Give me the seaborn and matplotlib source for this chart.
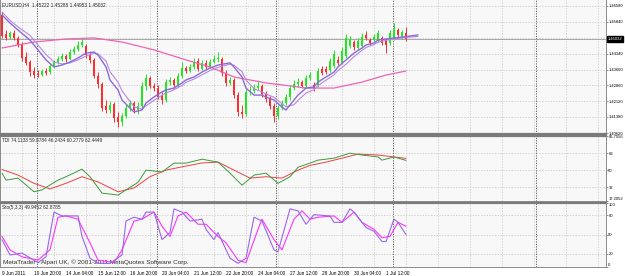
import numpy as np
import pandas as pd
import matplotlib
matplotlib.use("Agg")
import matplotlib.pyplot as plt
from matplotlib import font_manager
import seaborn as sns

# EURUSD H4 candles (bar 0 = 9 Jun 2011 12:00)
opens = [1.4616, 1.4527, 1.4512, 1.4531, 1.4508, 1.4480, 1.4419, 1.4395, 1.4353, 1.4339,
         1.4334, 1.4353, 1.4348, 1.4376, 1.4395, 1.4409, 1.4423, 1.4409, 1.4442, 1.4456,
         1.4475, 1.4470, 1.4428, 1.4405, 1.4330, 1.4292, 1.4189, 1.4170, 1.4198, 1.4137,
         1.4114, 1.4142, 1.4179, 1.4203, 1.4170, 1.4189, 1.4283, 1.4320, 1.4283, 1.4273,
         1.4236, 1.4217, 1.4301, 1.4311, 1.4287, 1.4330, 1.4367, 1.4353, 1.4372, 1.4400,
         1.4362, 1.4391, 1.4372, 1.4395, 1.4409, 1.4409, 1.4344, 1.4297, 1.4311, 1.4240,
         1.4161, 1.4151, 1.4255, 1.4259, 1.4273, 1.4283, 1.4245, 1.4222, 1.4189, 1.4142,
         1.4179, 1.4203, 1.4231, 1.4273, 1.4292, 1.4301, 1.4283, 1.4320, 1.4287, 1.4287,
         1.4362, 1.4362, 1.4358, 1.4376, 1.4405, 1.4391, 1.4423, 1.4470, 1.4489, 1.4461,
         1.4470, 1.4522, 1.4498, 1.4498, 1.4498, 1.4508, 1.4498, 1.4484, 1.4508, 1.4545,
         1.4512, 1.4531]
closes = [1.4517, 1.4508, 1.4531, 1.4508, 1.4475, 1.4414, 1.4391, 1.4348, 1.4334, 1.4334,
          1.4353, 1.4344, 1.4376, 1.4395, 1.4409, 1.4423, 1.4409, 1.4442, 1.4456, 1.4475,
          1.4489, 1.4428, 1.4405, 1.4330, 1.4292, 1.4179, 1.4170, 1.4194, 1.4133, 1.4114,
          1.4142, 1.4179, 1.4203, 1.4170, 1.4189, 1.4283, 1.4320, 1.4283, 1.4273, 1.4236,
          1.4217, 1.4301, 1.4311, 1.4287, 1.4330, 1.4367, 1.4353, 1.4372, 1.4395, 1.4362,
          1.4391, 1.4372, 1.4395, 1.4409, 1.4414, 1.4344, 1.4297, 1.4311, 1.4240, 1.4161,
          1.4151, 1.4255, 1.4259, 1.4273, 1.4283, 1.4245, 1.4222, 1.4189, 1.4142, 1.4179,
          1.4203, 1.4231, 1.4273, 1.4292, 1.4301, 1.4283, 1.4320, 1.4334, 1.4269, 1.4353,
          1.4344, 1.4348, 1.4400, 1.4433, 1.4391, 1.4447, 1.4508, 1.4503, 1.4466, 1.4494,
          1.4512, 1.4508, 1.4484, 1.4512, 1.4531, 1.4484, 1.4475, 1.4531, 1.4545, 1.4522,
          1.4536, 1.4503]
highs = [1.4630, 1.4545, 1.4541, 1.4545, 1.4517, 1.4489, 1.4442, 1.4405, 1.4372, 1.4358,
         1.4362, 1.4367, 1.4386, 1.4405, 1.4423, 1.4437, 1.4433, 1.4456, 1.4470, 1.4494,
         1.4503, 1.4480, 1.4442, 1.4414, 1.4348, 1.4301, 1.4217, 1.4212, 1.4208, 1.4161,
         1.4156, 1.4198, 1.4217, 1.4212, 1.4208, 1.4301, 1.4339, 1.4330, 1.4297, 1.4287,
         1.4255, 1.4315, 1.4325, 1.4320, 1.4344, 1.4395, 1.4376, 1.4386, 1.4414, 1.4414,
         1.4405, 1.4405, 1.4409, 1.4428, 1.4442, 1.4419, 1.4358, 1.4325, 1.4320, 1.4255,
         1.4194, 1.4269, 1.4283, 1.4292, 1.4311, 1.4292, 1.4259, 1.4236, 1.4203, 1.4194,
         1.4217, 1.4245, 1.4287, 1.4311, 1.4320, 1.4311, 1.4334, 1.4348, 1.4301, 1.4367,
         1.4376, 1.4376, 1.4414, 1.4452, 1.4423, 1.4466, 1.4527, 1.4517, 1.4498, 1.4508,
         1.4531, 1.4541, 1.4508, 1.4527, 1.4545, 1.4517, 1.4508, 1.4545, 1.4578, 1.4555,
         1.4545, 1.4559]
lows = [1.4508, 1.4498, 1.4503, 1.4498, 1.4466, 1.4400, 1.4381, 1.4330, 1.4320, 1.4325,
        1.4330, 1.4334, 1.4339, 1.4367, 1.4386, 1.4400, 1.4395, 1.4405, 1.4433, 1.4447,
        1.4466, 1.4414, 1.4391, 1.4320, 1.4273, 1.4165, 1.4156, 1.4156, 1.4114, 1.4090,
        1.4095, 1.4133, 1.4165, 1.4156, 1.4151, 1.4179, 1.4264, 1.4273, 1.4259, 1.4222,
        1.4198, 1.4208, 1.4287, 1.4273, 1.4278, 1.4320, 1.4344, 1.4348, 1.4362, 1.4353,
        1.4358, 1.4362, 1.4367, 1.4391, 1.4395, 1.4330, 1.4283, 1.4287, 1.4226, 1.4142,
        1.4133, 1.4142, 1.4240, 1.4250, 1.4264, 1.4231, 1.4208, 1.4175, 1.4114, 1.4128,
        1.4170, 1.4194, 1.4217, 1.4264, 1.4278, 1.4273, 1.4273, 1.4311, 1.4259, 1.4278,
        1.4334, 1.4339, 1.4348, 1.4367, 1.4381, 1.4386, 1.4414, 1.4461, 1.4452, 1.4452,
        1.4461, 1.4498, 1.4475, 1.4489, 1.4489, 1.4475, 1.4437, 1.4475, 1.4498, 1.4512,
        1.4503, 1.4494]

# moving averages (sampled along the curves)
ma_bars = [0, 2, 4, 7, 9, 11, 13, 15, 17, 19, 21, 23, 24, 26, 27, 29, 30, 32, 33, 35,
           36, 38, 40, 41, 43, 45, 46, 48, 50, 52, 54, 57, 58, 60, 61, 63, 65, 66, 68, 70,
           71, 73, 74, 76, 78, 79, 81, 83, 84, 86, 88, 90, 91, 93, 94, 96, 98, 100, 102, 104]
ma_fast = [1.4616, 1.4578, 1.4545, 1.4498, 1.4452, 1.4405, 1.4372, 1.4381, 1.4395, 1.4414,
           1.4437, 1.4442, 1.4428, 1.4372, 1.4311, 1.4264, 1.4217, 1.4179, 1.4161, 1.4170,
           1.4203, 1.4231, 1.4255, 1.4264, 1.4273, 1.4297, 1.4311, 1.4325, 1.4348, 1.4367,
           1.4381, 1.4391, 1.4372, 1.4325, 1.4273, 1.4240, 1.4240, 1.4231, 1.4217, 1.4184,
           1.4170, 1.4217, 1.4240, 1.4273, 1.4278, 1.4301, 1.4325, 1.4348, 1.4372, 1.4405,
           1.4437, 1.4461, 1.4475, 1.4484, 1.4498, 1.4503, 1.4508, 1.4512, 1.4517, 1.4522]
ma_mid = [1.4630, 1.4590, 1.4560, 1.4520, 1.4475, 1.4430, 1.4395, 1.4386, 1.4391, 1.4405,
          1.4423, 1.4437, 1.4433, 1.4400, 1.4350, 1.4300, 1.4260, 1.4210, 1.4185, 1.4175,
          1.4190, 1.4215, 1.4240, 1.4250, 1.4265, 1.4285, 1.4300, 1.4315, 1.4335, 1.4355,
          1.4370, 1.4385, 1.4380, 1.4350, 1.4310, 1.4270, 1.4255, 1.4245, 1.4230, 1.4200,
          1.4185, 1.4195, 1.4215, 1.4250, 1.4265, 1.4285, 1.4310, 1.4335, 1.4355, 1.4385,
          1.4420, 1.4450, 1.4463, 1.4477, 1.4488, 1.4497, 1.4503, 1.4508, 1.4512, 1.4515]
slow_bars = [0, 8, 16, 23, 30, 38, 46, 52, 58, 66, 72, 76, 83, 90, 96, 101]
ma_slow = [1.4461, 1.4489, 1.4503, 1.4508, 1.4489, 1.4452, 1.4405, 1.4372, 1.4325, 1.4297,
           1.4283, 1.4273, 1.4273, 1.4301, 1.4334, 1.4353]

# TDI window
tdi_green_bars = [0, 1, 4, 8, 10, 14, 16, 20, 22, 25, 29, 31, 34, 36, 40, 43, 46, 50, 54,
                  57, 60, 63, 66, 69, 72, 74, 77, 79, 83, 87, 90, 94, 95, 98, 101]
tdi_green = [46.8, 39.4, 41.5, 27, 29, 39.4, 43, 51, 43, 25.6, 23.5, 29, 37, 50, 48, 57.4,
             57.4, 61.6, 58.5, 46.8, 34, 44.7, 46.8, 36, 43, 53, 57.4, 60.6, 62.7, 68, 66,
             64, 60.6, 64, 60.3]
tdi_red_bars = [0, 4, 8, 12, 16, 20, 24, 29, 33, 37, 41, 45, 50, 54, 58, 62, 66, 70, 74,
                77, 81, 85, 89, 94, 98, 101]
tdi_red = [50.7, 44.7, 36, 30, 36, 43, 37.5, 27, 31, 43, 50, 53.5, 57.6, 58.5, 50, 41.5,
           43, 41.5, 50, 55, 58.5, 62.7, 67, 66, 64, 62.4]

# Stochastic (5,3,3)
stoch_k_bars = [0, 2, 5, 9, 11, 13, 15, 19, 20, 22, 24, 27, 30, 31, 33, 35, 36, 38, 40, 42,
                43, 45, 47, 50, 51, 53, 54, 57, 59, 61, 63, 65, 68, 69, 72, 74, 76, 78, 82,
                83, 85, 87, 88, 91, 93, 95, 96, 98, 99, 101]
stoch_k = [42, 18, 21, 6, 15, 85, 79, 79, 47, 13, 5, 5, 18, 71, 77, 74, 85, 85, 42, 53,
           90, 85, 71, 74, 58, 42, 53, 13, 5, 13, 77, 71, 26, 23, 90, 87, 66, 81, 79,
           69, 69, 90, 85, 61, 55, 39, 39, 74, 69, 49.9]
stoch_d_bars = [0, 2, 5, 9, 12, 14, 16, 19, 22, 24, 28, 30, 33, 35, 38, 40, 42, 44, 46, 49,
                51, 54, 56, 59, 61, 64, 65, 68, 70, 73, 75, 77, 79, 83, 85, 88, 90, 93, 95,
                97, 99, 101]
stoch_d = [47, 26, 15, 10, 26, 77, 79, 74, 37, 10, 6, 26, 71, 74, 85, 63, 47, 79, 85, 66,
           66, 47, 37, 10, 6, 58, 74, 42, 26, 74, 87, 74, 77, 79, 69, 85, 69, 58, 45,
           47, 69, 62.9]

price_ticks = [1.46580, 1.45840, 1.44340, 1.43600, 1.42860, 1.42120, 1.41380, 1.40620]
last_price = 1.45032
tdi_ticks = [86.7556, 68, 50, 32, 17.2052]
stoch_ticks = [100, 80, 50, 20, 0]
time_bars = [0, 8, 16, 24, 32, 40, 48, 56, 64, 72, 80, 88, 96]
time_labels = ["9 Jun 2011", "10 Jun 20:00", "14 Jun 04:00", "15 Jun 12:00", "16 Jun 20:00",
               "20 Jun 04:00", "21 Jun 12:00", "22 Jun 20:00", "24 Jun 04:00", "27 Jun 12:00",
               "28 Jun 20:00", "30 Jun 04:00", "1 Jul 12:00"]
week_breaks = [8.75, 38.75, 68.5, 97.75, 133.5]

sns.set_style("white")
plt.rcParams["font.family"] = ["Liberation Sans", "DejaVu Sans"]

# a narrow face keeps the tiny MetaTrader labels from running into each other
installed = {f.name for f in font_manager.fontManager.ttflist}
if "Liberation Sans Narrow" in installed:
    small = dict(family=["Liberation Sans Narrow", "DejaVu Sans"], size=4.0)
    scale = dict(family=["Liberation Sans Narrow", "DejaVu Sans"], size=3.5)
else:
    small = dict(family=["Liberation Sans", "DejaVu Sans"], size=3.4)
    scale = dict(family=["Liberation Sans", "DejaVu Sans"], size=3.0)

W, H = 625, 276
fig = plt.figure(figsize=(W / 100, H / 100), dpi=100)
fig.patch.set_facecolor("white")


def panel(top, bottom):
    return fig.add_axes([0, 1 - bottom / H, 606 / W, (bottom - top) / H])


ax_p = panel(0, 134)
ax_t = panel(135.5, 201)
ax_s = panel(202.5, 266.5)
axes = [ax_p, ax_t, ax_s]

grid_bars = np.arange(5, 152, 8)
for ax in axes:
    ax.set_facecolor("#f8f8f8")
    ax.set_xlim(-0.5, 151)
    ax.set_xticks(grid_bars, minor=True)
    ax.grid(axis="x", which="minor", color="#c4c4c4", ls=(0, (2, 2)), lw=0.5)
    ax.grid(axis="y", which="major", color="#c4c4c4", ls=(0, (2, 2)), lw=0.5)
    ax.set_axisbelow(True)
    ax.yaxis.tick_right()
    ax.tick_params(axis="y", length=1.2, width=0.5, pad=0.5, colors="#707070",
                   labelcolor="black")
    ax.tick_params(axis="x", which="minor", length=0)
    for s in ["left", "right", "top", "bottom"]:
        ax.spines[s].set_color("#7a7a7a")
        ax.spines[s].set_linewidth(0.6)
    for b in week_breaks:
        ax.axvline(b, color="#505050", ls=(0, (1.5, 1.5)), lw=0.6, zorder=1)
for ax in [ax_t, ax_s]:
    ax.spines["top"].set_linewidth(1.6)
ax_p.spines["top"].set_visible(False)
ax_p.spines["bottom"].set_linewidth(1.6)

# --- price panel ---
bars = np.arange(len(closes))
o = np.array(opens)
c = np.array(closes)
col = np.where(c >= o, "#1fe81f", "#ff2d2d")
ax_p.vlines(bars, lows, highs, colors=col, lw=0.7, zorder=2)
ax_p.bar(bars, np.maximum(np.abs(c - o), 0.00015), bottom=np.minimum(o, c),
         width=0.72, color=col, linewidth=0, zorder=3)
sns.lineplot(x=slow_bars, y=ma_slow, ax=ax_p, color="#f062b4", lw=0.9, zorder=4)
sns.lineplot(x=ma_bars, y=ma_mid, ax=ax_p, color="#b688e6", lw=0.8, zorder=4)
sns.lineplot(x=ma_bars, y=ma_fast, ax=ax_p, color="#8a6ad8", lw=1.0, zorder=5)
ax_p.axhline(last_price, color="#9a9a9a", lw=0.6, zorder=1)
ax_p.set_ylim(1.40575, 1.4686)
ax_p.set_yticks(price_ticks + [1.4510], [f"{v:.5f}" for v in price_ticks] + [""])
ax_p.text(1.0 + 2 / 606, last_price, f"{last_price:.5f}", transform=ax_p.get_yaxis_transform(),
          color="white", va="center", ha="left", clip_on=False,
          bbox=dict(facecolor="black", edgecolor="black", pad=0.4),
          family=scale["family"], size=scale["size"])
ax_p.text(0.004, 0.985, "EURUSD,H4  1.45222 1.45288 1.44953 1.45032", transform=ax_p.transAxes,
          va="top", ha="left", **small)

# --- TDI panel ---
sns.lineplot(x=tdi_red_bars, y=tdi_red, ax=ax_t, color="#f04040", lw=0.7, zorder=4)
sns.lineplot(x=tdi_green_bars, y=tdi_green, ax=ax_t, color="#3c9a3c", lw=0.7, zorder=5)
ax_t.set_ylim(17.2052, 86.7556)
ax_t.set_yticks(tdi_ticks, ["86.7556", "68", "50", "32", "17.2052"])
ax_t.get_yticklabels()[0].set_va("top")
ax_t.get_yticklabels()[-1].set_va("bottom")
ax_t.text(0.004, 0.96, "TDI 74.1133 59.8784 46.2434 60.2779 62.4449", transform=ax_t.transAxes,
          va="top", ha="left", **small)

# --- Stochastic panel ---
sns.lineplot(x=stoch_d_bars, y=stoch_d, ax=ax_s, color="#ff33ff", lw=0.8, zorder=4)
sns.lineplot(x=stoch_k_bars, y=stoch_k, ax=ax_s, color="#9966ee", lw=0.8, zorder=5)
ax_s.set_ylim(0, 100)
ax_s.set_yticks(stoch_ticks, [str(v) for v in stoch_ticks])
ax_s.get_yticklabels()[0].set_va("top")
ax_s.get_yticklabels()[-1].set_va("bottom")
ax_s.text(0.004, 0.96, "Sto(5,3,3) 49.9452 62.8785", transform=ax_s.transAxes,
          va="top", ha="left", **small)
ax_s.text(0.005, 0.07, "MetaTrader - Alpari UK, \u00a9 2001-2011 MetaQuotes Software Corp.",
          transform=ax_s.transAxes, fontsize=4.6, va="center", ha="left", color="#303030")

for ax in [ax_p, ax_t]:
    ax.set_xticks([])
ax_s.set_xticks(time_bars, time_labels)
ax_s.tick_params(axis="x", which="major", length=2, width=0.5, pad=1,
                 colors="#707070", labelcolor="black")
for ax in axes:
    for lbl in ax.get_yticklabels():
        lbl.set_fontfamily(scale["family"])
        lbl.set_fontsize(scale["size"])
for lbl in ax_s.get_xticklabels():
    lbl.set_ha("left")
    lbl.set_fontfamily(small["family"])
    lbl.set_fontsize(small["size"])
for ax in axes:
    ax.set_xlabel("")
    ax.set_ylabel("")

fig.savefig("out.png", dpi=100, facecolor="white")
